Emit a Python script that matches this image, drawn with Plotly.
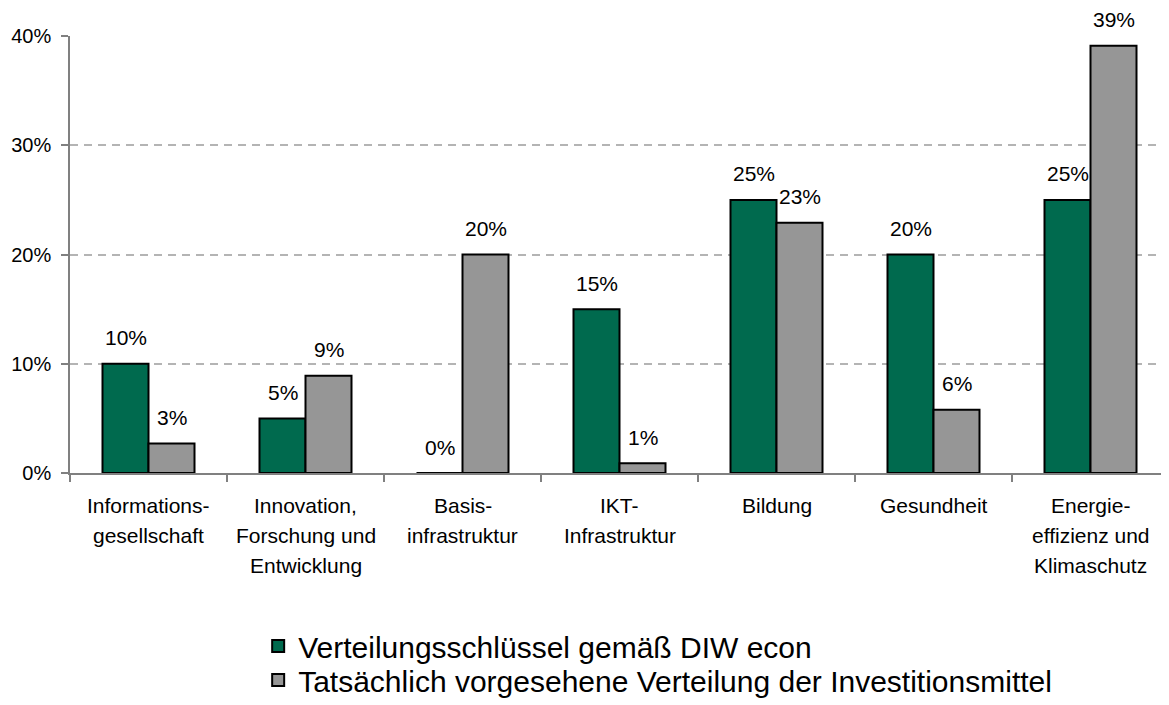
import plotly.graph_objects as go

# ---- data ----
categories = [
    "Informationsgesellschaft",
    "Innovation, Forschung und Entwicklung",
    "Basisinfrastruktur",
    "IKT-Infrastruktur",
    "Bildung",
    "Gesundheit",
    "Energieeffizienz und Klimaschutz",
]
category_label_lines = [
    ["Informations-", "gesellschaft"],
    ["Innovation,", "Forschung und", "Entwicklung"],
    ["Basis-", "infrastruktur"],
    ["IKT-", "Infrastruktur"],
    ["Bildung"],
    ["Gesundheit"],
    ["Energie-", "effizienz und", "Klimaschutz"],
]
diw_econ = [10, 5, 0, 15, 25, 20, 25]
tatsaechlich = [2.7, 8.9, 20.0, 0.9, 22.9, 5.8, 39.1]
series_names = [
    "Verteilungsschlüssel gemäß DIW econ",
    "Tatsächlich vorgesehene Verteilung der Investitionsmittel",
]
y_tick_values = [0, 10, 20, 30, 40]
y_tick_labels = ["0%", "10%", "20%", "30%", "40%"]

# ---- style ----
FONT = "Liberation Sans, Arial, sans-serif"
GREEN = "#006A4E"
GREY = "#969696"
AXIS = "#808080"

fig = go.Figure()
for name, vals, col, lg in [(series_names[0], diw_econ, GREEN, "legend"),
                            (series_names[1], tatsaechlich, GREY, "legend2")]:
    fig.add_trace(go.Bar(
        x=categories, y=vals, name=name, legend=lg,
        marker=dict(color=col, line=dict(color="black", width=2)),
        hoverinfo="x+y",
    ))

annotations = []
# value labels
for vals, shift in [(diw_econ, -23), (tatsaechlich, 23)]:
    for c, v in zip(categories, vals):
        annotations.append(dict(
            x=c, y=v, xref="x", yref="y", text=f"{round(v):d}%",
            showarrow=False, xshift=shift, yshift=26, yanchor="middle",
            font=dict(family=FONT, size=21, color="black"),
        ))
# category labels (multi-line with wide spacing)
for c, lines in zip(categories, category_label_lines):
    for i, line in enumerate(lines):
        annotations.append(dict(
            x=c, y=0, xref="x", yref="paper", text=line,
            showarrow=False, yanchor="middle", yshift=-32 - 30 * i,
            font=dict(family=FONT, size=21, color="black"),
        ))

legend_common = dict(
    orientation="h", xref="container", yref="container",
    x=0.214, xanchor="left", yanchor="top",
    font=dict(family=FONT, size=30, color="black"),
    bgcolor="rgba(0,0,0,0)",
)

fig.update_layout(
    width=1169, height=705, autosize=False,
    margin=dict(l=62, r=8, t=28, b=240),
    paper_bgcolor="white", plot_bgcolor="white",
    barmode="group", bargap=0.414, bargroupgap=0,
    font=dict(family=FONT, size=20, color="black"),
    annotations=annotations,
    showlegend=True,
    legend=dict(legend_common, y=1 - 612 / 705),
    legend2=dict(legend_common, y=1 - 646 / 705),
    xaxis=dict(
        type="category", showline=True, linecolor=AXIS, linewidth=1.5,
        ticks="outside", tickson="boundaries", ticklen=7, tickcolor=AXIS, tickwidth=1.5,
        showticklabels=False, showgrid=False, zeroline=False, fixedrange=True,
        automargin=False,
    ),
    yaxis=dict(
        range=[0, 40], tickvals=y_tick_values, ticktext=y_tick_labels,
        showline=True, linecolor=AXIS, linewidth=1.5,
        ticks="outside", ticklen=7, tickcolor=AXIS, tickwidth=1.5,
        ticklabelstandoff=6, automargin=False,
        showgrid=True, gridcolor="#B4B4B4", gridwidth=1.5, griddash="8px,6px",
        zeroline=False, tickfont=dict(family=FONT, size=20, color="black"),
    ),
)

fig.write_html("out.html")
